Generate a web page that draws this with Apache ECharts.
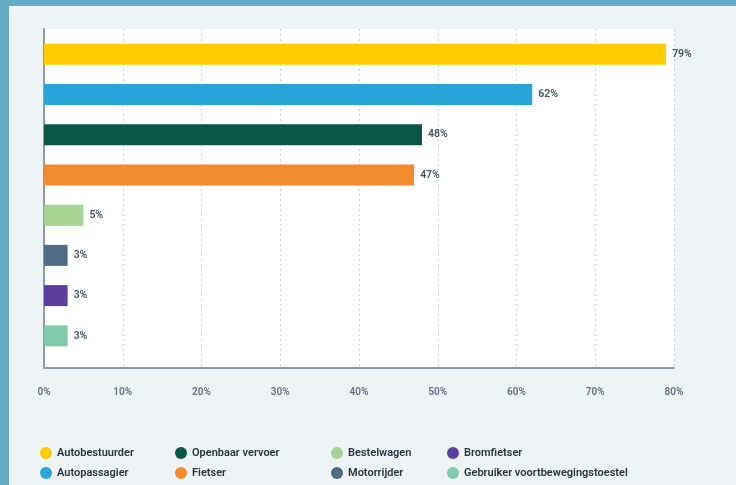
<!DOCTYPE html>
<html>
<head>
<meta charset="utf-8">
<script src="https://cdn.jsdelivr.net/npm/echarts@6/dist/echarts.min.js"></script>
<style>
  html, body { margin: 0; padding: 0; background: #eef3f5; }
  #chart { width: 736px; height: 485px; }
</style>
</head>
<body>
<div id="chart"></div>
<script>
const categories = [
  "Autobestuurder",
  "Autopassagier",
  "Openbaar vervoer",
  "Fietser",
  "Bestelwagen",
  "Motorrijder",
  "Bromfietser",
  "Gebruiker voortbewegingstoestel",
];
const values = [79, 62, 48, 47, 5, 3, 3, 3];
const colors = [
  "#ffcc00",
  "#2aa5dc",
  "#0b5647",
  "#f28a2f",
  "#a5d394",
  "#506b84",
  "#5b3f9c",
  "#80c9aa",
];
const xTicks = [0, 10, 20, 30, 40, 50, 60, 70, 80];

const chart = echarts.init(document.getElementById("chart"));

// one series per category so every bar gets its own legend entry
const series = categories.map((name, i) => ({
  name: name,
  type: "bar",
  xAxisIndex: 1,
  yAxisIndex: 1,
  barWidth: 21,
  barGap: "-100%",
  data: values.map((v, j) => (j === i ? v : null)),
  itemStyle: { color: colors[i] },
  label: {
    show: true,
    position: "right",
    distance: 6,
    formatter: "{c}%",
    color: "#3f5366",
    fontSize: 10.5,
    fontWeight: 600,
    fontFamily: "Roboto",
  },
}));

// legend is laid out column by column, two items per column
const legendLefts = [35, 170, 326, 442];
const legends = legendLefts.map((left, c) => ({
  orient: "vertical",
  left: left,
  top: 442,
  icon: "circle",
  itemWidth: 12,
  itemHeight: 12,
  itemGap: 8,
  data: categories.slice(c * 2, c * 2 + 2),
  textStyle: {
    color: "#26343f",
    fontSize: 11,
    fontWeight: 600,
    fontFamily: "Roboto",
  },
  selectedMode: false,
}));

const option = {
  animation: false,
  graphic: [
    { type: "rect", left: 0, top: 0, shape: { width: 9, height: 485 }, style: { fill: "#64acc5" } },
    { type: "rect", left: 0, top: 0, shape: { width: 736, height: 6 }, style: { fill: "#64acc5" } },
  ],
  grid: [
    {
      left: 44, right: 62, top: 29, bottom: 117,
      show: true, backgroundColor: "#ffffff", borderWidth: 0,
    },
    { left: 44, right: 62, top: 34, bottom: 129 },
  ],
  xAxis: [
    {
      gridIndex: 0,
      type: "value",
      min: xTicks[0],
      max: xTicks[xTicks.length - 1],
      interval: 10,
      axisLine: { show: true, lineStyle: { color: "#8d9ba6", width: 2 } },
      axisTick: { show: false },
      axisLabel: {
        formatter: "{value}%",
        color: "#5c7184",
        fontSize: 10,
        fontWeight: 600,
        fontFamily: "Roboto",
        margin: 19,
      },
      splitLine: { show: true, lineStyle: { color: "#cdd4da", type: [2, 3] } },
    },
    {
      gridIndex: 1,
      type: "value",
      min: xTicks[0],
      max: xTicks[xTicks.length - 1],
      show: false,
    },
  ],
  yAxis: [
    {
      gridIndex: 0,
      type: "category",
      data: [""],
      axisLine: { show: true, lineStyle: { color: "#8d9ba6", width: 2 } },
      axisTick: { show: false },
      axisLabel: { show: false },
    },
    {
      gridIndex: 1,
      type: "category",
      inverse: true,
      data: categories,
      show: false,
    },
  ],
  legend: legends,
  series: series,
};

chart.setOption(option);
</script>
</body>
</html>
